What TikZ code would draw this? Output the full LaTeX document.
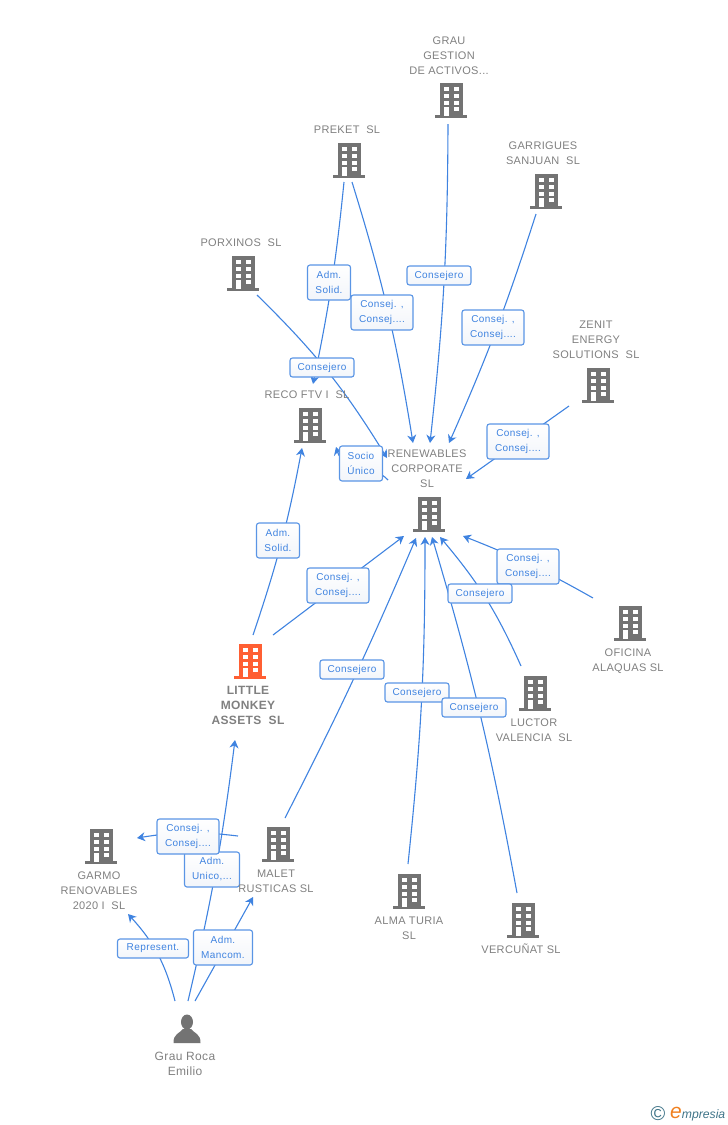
\documentclass[tikz,border=0pt]{standalone}
\usepackage{fontspec}
\setmainfont{Liberation Sans}
\usetikzlibrary{arrows.meta}
\definecolor{edgeblue}{HTML}{3F83E0}
\definecolor{roleblue}{HTML}{5A95E5}
\definecolor{rolefill}{HTML}{F2F5FA}
\definecolor{textgray}{HTML}{808080}
\definecolor{icongray}{HTML}{737373}
\definecolor{iconred}{HTML}{FF5F33}
\definecolor{logoteal}{HTML}{3F7488}
\definecolor{logoorange}{HTML}{F08020}
\newcommand{\buildingIcon}[1]{%
\begin{scope}[shift={(path picture bounding box.center)}]
\fill[#1] (-16,15) rectangle (16,17.5);
\fill[#1] (-11.5,-17) rectangle (11.5,16);
\foreach \wx in {-7.5,2.5}
  \foreach \wy in {-13.3,-6.3,0.7}
    \fill[white] (\wx,\wy) rectangle ++(5,4);
\fill[white] (-7.5,7) rectangle ++(5,9);
\fill[white] (2.5,7) rectangle ++(5,4.4);
\end{scope}}
\begin{document}
\begin{tikzpicture}[x=1pt,y=-1pt]
\tikzstyle{nameStyle}=[text=textgray, font=\fontsize{11}{15}\selectfont\addfontfeature{LetterSpace=3}, align=center, inner sep=0pt, yshift=-1pt]
\tikzstyle{mainStyle}=[text=textgray, font=\fontsize{12}{15}\selectfont\bfseries\addfontfeature{LetterSpace=3}, align=center, inner sep=0pt, yshift=-1pt]
\tikzstyle{buildingStyle}=[minimum width=34pt, minimum height=38pt, inner sep=0pt, path picture={\buildingIcon{icongray}}]
\tikzstyle{mainBuildingStyle}=[minimum width=34pt, minimum height=38pt, inner sep=0pt, path picture={\buildingIcon{iconred}}]
\tikzstyle{roleStyle}=[draw=roleblue, line width=1.1pt, rounded corners=2.5pt, top color=white, bottom color=rolefill, text=edgeblue, font=\fontsize{10}{15}\selectfont\addfontfeature{LetterSpace=4}, align=center, inner sep=0pt, minimum height=19pt, yshift=-0.5pt]
\tikzstyle{arrowStyle}=[draw=edgeblue, line width=1.1pt, -{Stealth[length=8pt,width=9pt,inset=2.5pt]}]
\useasboundingbox (0,0) rectangle (728,1125);
% companies
\node[buildingStyle] (grau) at (451,100) {};
\node[buildingStyle] (preket) at (349,160) {};
\node[buildingStyle] (garrigues) at (546,191) {};
\node[buildingStyle] (porxinos) at (243,273) {};
\node[buildingStyle] (zenit) at (598,385) {};
\node[buildingStyle] (reco) at (310,425) {};
\node[buildingStyle] (renewables) at (429,514) {};
\node[buildingStyle] (oficina) at (630,623) {};
\node[buildingStyle] (luctor) at (535,693) {};
\node[mainBuildingStyle] (little) at (250,661) {};
\node[buildingStyle] (malet) at (278,844) {};
\node[buildingStyle] (garmo) at (101,846) {};
\node[buildingStyle] (alma) at (409,891) {};
\node[buildingStyle] (vercunat) at (523,920) {};
% person
\node[minimum width=30pt, minimum height=30pt, inner sep=0pt] (emilio) at (187,1029) {};
\fill[icongray] (187,1022) ellipse (6 and 7.5);
\fill[icongray] (173.5,1043) .. controls (173,1034) and (180,1033) .. (183,1029) -- (191,1029) .. controls (194,1033) and (201,1034) .. (200.5,1043) -- cycle;
% free ends
\coordinate (grauOut) at (448,124);
\coordinate (preketOutA) at (344,182);
\coordinate (preketOutB) at (352,182);
\coordinate (garriguesOut) at (536,214);
\coordinate (zenitOut) at (569,406);
\coordinate (porxinosOut) at (257,295);
\coordinate (renOut) at (388,480);
\coordinate (littleOutA) at (253,635);
\coordinate (littleOutB) at (273,635);
\coordinate (maletOutA) at (285,818);
\coordinate (maletOutB) at (238,836);
\coordinate (almaOut) at (408,864);
\coordinate (vercunatOut) at (517,893);
\coordinate (luctorOut) at (521,666);
\coordinate (oficinaOut) at (593,598);
\coordinate (emilioOutA) at (175,1001);
\coordinate (emilioOutB) at (188,1001);
\coordinate (emilioOutC) at (195,1001);
\coordinate (renInA) at (430,443);
\coordinate (renInB) at (413,443);
\coordinate (renInC) at (449,443);
\coordinate (renInD) at (466,479);
\coordinate (renInE) at (387,458);
\coordinate (renInF) at (404,536);
\coordinate (renInG) at (416,538);
\coordinate (renInH) at (425,537);
\coordinate (renInI) at (432,537);
\coordinate (renInJ) at (440,537);
\coordinate (renInK) at (463,536);
\coordinate (recoInA) at (313,384);
\coordinate (recoInB) at (302,448);
\coordinate (recoInC) at (336,447);
\coordinate (littleIn) at (235,740);
\coordinate (garmoInA) at (137,838);
\coordinate (garmoInB) at (128,914);
\coordinate (maletIn) at (253,897);
% edges
\draw[arrowStyle] (grauOut) to [bend left=3] (renInA);
\draw[arrowStyle] (preketOutA) to [bend left=3] (recoInA);
\draw[arrowStyle] (preketOutB) to [bend left=4] (renInB);
\draw[arrowStyle] (garriguesOut) to [bend left=3] (renInC);
\draw[arrowStyle] (zenitOut) -- (renInD);
\draw[arrowStyle] (porxinosOut) to [bend left=7] (renInE);
\draw[arrowStyle] (renOut) .. controls (375,465) and (343,470) .. (recoInC);
\draw[arrowStyle] (littleOutA) to [bend right=4] (recoInB);
\draw[arrowStyle] (littleOutB) -- (renInF);
\draw[arrowStyle] (maletOutA) to [bend right=2] (renInG);
\draw[arrowStyle] (almaOut) to [bend right=3] (renInH);
\draw[arrowStyle] (vercunatOut) to [bend right=3] (renInI);
\draw[arrowStyle] (luctorOut) to [bend right=8] (renInJ);
\draw[arrowStyle] (oficinaOut) to [bend right=4] (renInK);
\draw[arrowStyle] (maletOutB) to [bend right=8] (garmoInA);
\draw[arrowStyle] (emilioOutB) to [bend right=3] (littleIn);
\draw[arrowStyle] (emilioOutA) to [bend right=14] (garmoInB);
\draw[arrowStyle] (emilioOutC) -- (maletIn);
% roles
\node[roleStyle, minimum width=64pt] (roleA) at (439,275) {Consejero};
\node[roleStyle, minimum width=43pt, minimum height=35pt] (roleB) at (329,282) {Adm.\\Solid.};
\node[roleStyle, minimum width=62pt, minimum height=35pt] (roleC) at (382,312) {Consej. ,\\Consej....};
\node[roleStyle, minimum width=62pt, minimum height=35pt] (roleD) at (493,327) {Consej. ,\\Consej....};
\node[roleStyle, minimum width=64pt] (roleE) at (322,367) {Consejero};
\node[roleStyle, minimum width=62pt, minimum height=35pt] (roleF) at (518,441) {Consej. ,\\Consej....};
\node[roleStyle, minimum width=43pt, minimum height=35pt] (roleG) at (361,463) {Socio\\Único};
\node[roleStyle, minimum width=43pt, minimum height=35pt] (roleH) at (278,540) {Adm.\\Solid.};
\node[roleStyle, minimum width=62pt, minimum height=35pt] (roleI) at (338,585) {Consej. ,\\Consej....};
\node[roleStyle, minimum width=62pt, minimum height=35pt] (roleJ) at (528,566) {Consej. ,\\Consej....};
\node[roleStyle, minimum width=64pt] (roleK) at (480,593) {Consejero};
\node[roleStyle, minimum width=64pt] (roleL) at (352,669) {Consejero};
\node[roleStyle, minimum width=64pt] (roleM) at (417,692) {Consejero};
\node[roleStyle, minimum width=64pt] (roleN) at (474,707) {Consejero};
\node[roleStyle, minimum width=55pt, minimum height=35pt] (roleP) at (212,869) {Adm.\\Unico,...};
\node[roleStyle, minimum width=62pt, minimum height=35pt] (roleO) at (188,836) {Consej. ,\\Consej....};
\node[roleStyle, minimum width=71pt] (roleQ) at (153,948) {Represent.};
\node[roleStyle, minimum width=59pt, minimum height=35pt] (roleR) at (223,947) {Adm.\\Mancom.};
% names
\node[nameStyle] (grauName) at (449,55) {GRAU\\GESTION\\DE ACTIVOS...};
\node[nameStyle] (preketName) at (347,129) {PREKET~~SL};
\node[nameStyle] (garriguesName) at (543,152) {GARRIGUES\\SANJUAN~~SL};
\node[nameStyle] (porxinosName) at (241,242) {PORXINOS~~SL};
\node[nameStyle] (zenitName) at (596,339) {ZENIT\\ENERGY\\SOLUTIONS~~SL};
\node[nameStyle] (recoName) at (307,394) {RECO FTV I~~SL};
\node[nameStyle] (renewablesName) at (427,468) {RENEWABLES\\CORPORATE\\SL};
\node[nameStyle] (oficinaName) at (628,660) {OFICINA\\ALAQUAS SL};
\node[nameStyle] (luctorName) at (534,729) {LUCTOR\\VALENCIA~~SL};
\node[mainStyle] (littleName) at (248,704) {LITTLE\\MONKEY\\ASSETS~~SL};
\node[nameStyle] (maletName) at (276,880) {MALET\\RUSTICAS SL};
\node[nameStyle] (garmoName) at (99,890) {GARMO\\RENOVABLES\\2020 I~~SL};
\node[nameStyle] (almaName) at (409,927) {ALMA TURIA\\SL};
\node[nameStyle] (vercunatName) at (521,948) {VERCUÑAT SL};
\node[nameStyle, font=\fontsize{12}{15}\selectfont\addfontfeature{LetterSpace=3}] (emilioName) at (185,1063) {Grau Roca\\Emilio};
% logo
\node[inner sep=0pt, text=logoteal, font=\fontsize{20}{20}\selectfont] (logoMark) at (658,1114) {©};
\node[inner sep=0pt, anchor=base west, text=logoteal, font=\itshape\fontsize{12.2}{14}\selectfont] (logoText) at (670,1118) {\textcolor{logoorange}{\fontsize{21}{21}\selectfont e}mpresia};
\end{tikzpicture}
\end{document}
